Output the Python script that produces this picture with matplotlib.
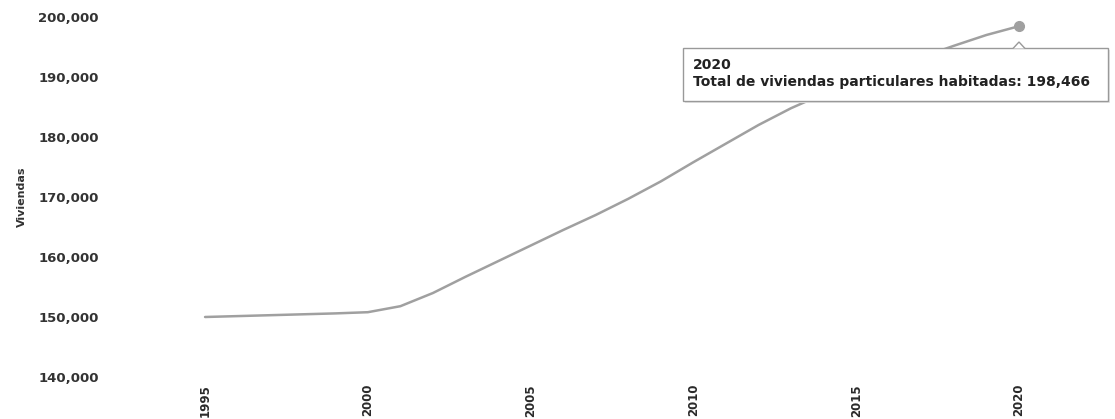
import matplotlib.pyplot as plt
from matplotlib.patches import Rectangle, Polygon

# datos
anios = list(range(1995, 2021))
viviendas = [150000, 150150, 150300, 150450, 150600, 150800, 151800, 154000,
             156700, 159300, 161900, 164500, 167000, 169700, 172600, 175800,
             178900, 182000, 184800, 187200, 189400, 191400, 193300, 195200,
             197000, 198466]
ticks_x = [1995, 2000, 2005, 2010, 2015, 2020]
ticks_y = [140000, 150000, 160000, 170000, 180000, 190000, 200000]

W, H = 1115, 419
fig = plt.figure(figsize=(W / 100, H / 100), dpi=100)
ax = fig.add_axes([110 / W, (H - 377) / H, (1100 - 110) / W, 360 / H])

ax.plot(anios, viviendas, color='#a0a0a0', lw=1.8, solid_capstyle='round')
ax.plot(anios[-1], viviendas[-1], 'o', color='#a0a0a0', ms=7)

ax.set_xlim(1992.08, 2022.49)
ax.set_ylim(140000, 200000)
ax.set_xticks(ticks_x)
ax.set_xticklabels([str(t) for t in ticks_x], rotation=90, fontsize=8.5,
                   fontweight='bold', color='#2a2a2a')
ax.set_yticks(ticks_y)
ax.set_yticklabels([f'{v:,}' for v in ticks_y], fontsize=9.5,
                   fontweight='bold', color='#333333')
ax.tick_params(axis='y', length=0, pad=8)
ax.tick_params(axis='x', length=0, pad=5)
for s in ax.spines.values():
    s.set_visible(False)
ax.set_ylabel('Viviendas', fontsize=8, fontweight='bold', color='#333333',
              labelpad=8)

# tooltip
x0, y0, x1, y1 = 683, 48, 1108, 101
sombra = Rectangle(((x0 + 2) / W, 1 - (y1 + 2) / H), (x1 - x0) / W, (y1 - y0) / H,
                   transform=fig.transFigure, facecolor='#e6e6e6',
                   edgecolor='none', zorder=4)
caja = Rectangle((x0 / W, 1 - y1 / H), (x1 - x0) / W, (y1 - y0) / H,
                 transform=fig.transFigure, facecolor='white',
                 edgecolor='#999999', lw=1, zorder=5)
punta = Polygon([(1013 / W, 1 - (y0 + 0.5) / H), (1019 / W, 1 - (y0 - 6) / H),
                 (1025 / W, 1 - (y0 + 0.5) / H)], closed=False,
                transform=fig.transFigure, facecolor='white',
                edgecolor='#999999', lw=1, zorder=6)
fig.patches.extend([sombra, caja, punta])
fig.text(693 / W, 1 - 65 / H, '2020', fontsize=10, fontweight='bold',
         color='#222222', va='center', zorder=7)
fig.text(693 / W, 1 - 82 / H,
         'Total de viviendas particulares habitadas: 198,466',
         fontsize=10, fontweight='bold', color='#222222', va='center', zorder=7)

fig.savefig('out.png', dpi=100)
